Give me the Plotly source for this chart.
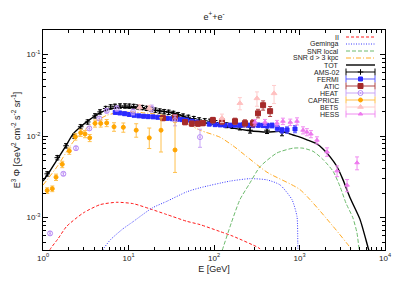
import math
import plotly.graph_objects as go

# ---------------- model curves (E [GeV], E^3 Phi) ----------------
ii_E = [1.15, 1.21, 1.5, 1.89, 2.96, 4.65, 7.3, 11.4, 17.8, 28, 48, 68.6, 117, 167, 327, 360]
ii_F = [3.5e-4, 4.07e-4, 5.5e-4, 7.8e-4, 1.14e-3, 1.44e-3, 1.54e-3, 1.48e-3, 1.28e-3, 1.09e-3, 9.0e-4, 8.2e-4, 6.75e-4, 5.9e-4, 4.3e-4, 4.0e-4]

gem_E = [4.8, 5.0, 6.1, 8.5, 11.3, 18.9, 28, 48, 68.6, 154, 264, 417, 591, 817, 935, 955, 960]
gem_F = [3.5e-4, 4.0e-4, 5.3e-4, 7.2e-4, 8.9e-4, 1.31e-3, 1.58e-3, 2.07e-3, 2.32e-3, 2.8e-3, 3.0e-3, 2.9e-3, 2.52e-3, 1.66e-3, 1.03e-3, 5.0e-4, 3.5e-4]

snrl_E = [118, 124, 160, 201, 260, 345, 545, 839, 1100, 1440, 1870, 2470, 2980, 3500, 4200, 4700, 5000, 5200]
snrl_F = [3.4e-4, 3.9e-4, 8.7e-4, 1.66e-3, 2.6e-3, 4.2e-3, 6.2e-3, 7.1e-3, 7.1e-3, 6.5e-3, 5.2e-3, 3.7e-3, 2.4e-3, 1.5e-3, 1.0e-3, 6.5e-4, 4.0e-4, 3.4e-4]

snrf_E = [1.0, 1.46, 2.26, 3.55, 5.6, 8.6, 15, 33, 68.6, 117, 167, 417, 1014, 2470, 4110, 4400]
snrf_F = [2.5e-3, 4.2e-3, 8.5e-3, 1.36e-2, 1.80e-2, 1.98e-2, 1.93e-2, 1.72e-2, 1.18e-2, 9.7e-3, 7.6e-3, 3.6e-3, 2.2e-3, 7.8e-4, 4.0e-4, 3.5e-4]

tot_E = [1.0, 1.2, 1.46, 1.8, 2.26, 2.8, 3.55, 4.5, 5.6, 7.0, 8.6, 11, 15, 20, 33, 68.6, 117, 167, 250, 417, 591, 700, 839,
         1014, 1224, 1600, 1870, 2270, 2750, 3230, 3900, 5100, 6330, 6700]
tot_F = [2.8e-3, 3.7e-3, 5.1e-3, 7.2e-3, 1.07e-2, 1.32e-2, 1.6e-2, 1.9e-2, 2.1e-2, 2.22e-2, 2.26e-2, 2.24e-2, 2.17e-2, 2.08e-2,
         1.93e-2, 1.48e-2, 1.36e-2, 1.25e-2, 1.17e-2, 1.12e-2, 1.14e-2, 1.1e-2, 1.03e-2,
         9.7e-3, 9.0e-3, 8.0e-3, 7.0e-3, 5.6e-3, 4.2e-3, 2.9e-3, 1.75e-3, 9.5e-4, 4.3e-4, 3.5e-4]

# ---------------- data sets ----------------
ams_E = [1.12, 1.47, 1.86, 2.32, 2.76, 3.33, 4.06, 4.65, 5.41, 6.19, 6.95, 7.96, 9.1, 10.2, 11.5, 12.9, 14.5, 16.3, 18.3,
         20.6, 23.2, 26.1, 29.5, 33.5, 38, 43.5, 50, 58, 67, 78, 90, 104, 120, 140, 165, 201, 264, 417, 624]
ams_F = [3.44e-3, 5.43e-3, 7.6e-3, 1.0e-2, 1.3e-2, 1.49e-2, 1.77e-2, 1.98e-2, 2.18e-2, 2.28e-2, 2.32e-2, 2.34e-2, 2.34e-2,
         2.33e-2, 2.31e-2, 2.28e-2, 2.24e-2, 2.19e-2, 2.13e-2, 2.08e-2, 2.03e-2, 1.99e-2, 1.96e-2, 1.9e-2, 1.83e-2, 1.76e-2,
         1.7e-2, 1.64e-2, 1.58e-2, 1.54e-2, 1.52e-2, 1.46e-2, 1.4e-2, 1.36e-2, 1.33e-2, 1.29e-2, 1.18e-2, 1.18e-2, 1.12e-2]
ams_err = [0.06] * 33 + [0.07, 0.07, 0.08, 0.08, 0.09, 0.1]

fermi_E = [7.0, 7.9, 9.0, 10.2, 11.6, 13.2, 15.0, 17.0, 19.4, 22.0, 25.0, 28.5, 32.5, 37, 42, 48, 55, 63, 74, 88, 103, 118,
           134, 155, 176, 200, 218, 250, 286, 330, 375, 420, 478, 550, 624, 715, 886]
fermi_F = [1.95e-2, 1.92e-2, 1.88e-2, 1.84e-2, 1.8e-2, 1.77e-2, 1.75e-2, 1.73e-2, 1.72e-2, 1.7e-2, 1.68e-2, 1.65e-2, 1.63e-2,
           1.61e-2, 1.59e-2, 1.57e-2, 1.52e-2, 1.48e-2, 1.43e-2, 1.4e-2, 1.38e-2, 1.37e-2, 1.36e-2, 1.36e-2, 1.36e-2,
           1.36e-2, 1.37e-2, 1.36e-2, 1.35e-2, 1.36e-2, 1.35e-2, 1.34e-2, 1.35e-2, 1.25e-2, 1.18e-2, 1.19e-2, 1.22e-2]
fermi_err = [0.04] * 25 + [0.05, 0.05, 0.05, 0.06, 0.06, 0.06, 0.07, 0.07, 0.08, 0.08, 0.09, 0.1]

atic_E = [25.3, 35, 45.8, 55, 65, 74, 97, 124, 176, 230, 286, 327, 375, 453]
atic_F = [1.66e-2, 1.7e-2, 1.48e-2, 1.42e-2, 1.42e-2, 1.44e-2, 1.57e-2, 1.52e-2, 1.52e-2, 1.44e-2, 1.44e-2, 1.9e-2, 2.39e-2, 2.02e-2]
atic_err = [0.07, 0.07, 0.07, 0.07, 0.07, 0.07, 0.08, 0.08, 0.09, 0.1, 0.1, 0.12, 0.13, 0.14]

heat_E = [1.21, 1.73, 2.43, 3.48, 4.55, 5.56, 7.3, 11.3, 18.7, 35, 68.6]
heat_F = [6.4e-4, 3.44e-3, 7.1e-3, 1.24e-2, 1.64e-2, 2.04e-2, 2.18e-2, 1.98e-2, 2.18e-2, 1.57e-2, 9.7e-3]
heat_err = [0.05, 0.05, 0.05, 0.05, 0.05, 0.06, 0.07, 0.08, 0.1, 0.15, 0.25]

caprice_E = [1.12, 1.285, 1.42, 1.68, 2.03, 2.39, 2.76, 3.1, 3.52, 4.06, 4.73, 5.56, 6.77, 8.7, 12.3, 17.5, 24, 35]
caprice_F = [2.15e-3, 2.26e-3, 3.13e-3, 4.5e-3, 6.56e-3, 9.8e-3, 1.10e-2, 1.06e-2, 9.5e-3, 1.43e-2, 1.43e-2, 1.45e-2,
             1.30e-2, 1.28e-2, 1.18e-2, 9.5e-3, 1.18e-2, 6.75e-3]
caprice_up = [0.08, 0.08, 0.09, 0.09, 0.09, 0.09, 0.1, 0.1, 0.1, 0.1, 0.1, 0.1, 0.12, 0.13, 0.2, 0.32, 0.42, 1.19]
caprice_dn = [0.08, 0.08, 0.09, 0.09, 0.09, 0.09, 0.1, 0.1, 0.1, 0.1, 0.1, 0.1, 0.12, 0.13, 0.18, 0.26, 0.46, 0.47]

bets_E = [13.5, 17.5, 124, 201, 318, 504]
bets_F = [2.25e-2, 2.2e-2, 1.66e-2, 2.53e-2, 2.9e-2, 3.34e-2]
bets_err = [0.08, 0.08, 0.12, 0.17, 0.2, 0.25]

hess_E = [302, 395, 545, 640, 780, 935, 1100, 1220, 1360, 1600, 2100, 2750, 3600, 4710]
hess_F = [1.48e-2, 1.48e-2, 1.44e-2, 1.52e-2, 1.48e-2, 1.52e-2, 1.18e-2, 1.12e-2, 1.06e-2, 8.9e-3, 6.4e-3, 3.74e-3, 2.5e-3, 4.7e-3]
hess_err = [0.08, 0.08, 0.08, 0.09, 0.09, 0.1, 0.1, 0.1, 0.1, 0.1, 0.12, 0.15, 0.17, 0.18]

x_ticks = [1, 10, 100, 1000, 10000]
x_tick_text = ["10<sup>0</sup>", "10<sup>1</sup>", "10<sup>2</sup>", "10<sup>3</sup>", "10<sup>4</sup>"]
y_ticks = [1e-3, 1e-2, 1e-1]
y_tick_text = ["10<sup>-3</sup>", "10<sup>-2</sup>", "10<sup>-1</sup>"]

names = ["II", "Geminga", "SNR local", "SNR d > 3 kpc", "TOT", "AMS-02", "FERMI", "ATIC", "HEAT", "CAPRICE", "BETS", "HESS"]

fig = go.Figure()

curves = [
    (ii_E, ii_F, "#ff1a1a", "3px,2px", 1.0),
    (gem_E, gem_F, "#3a3aff", "1px,1.5px", 1.0),
    (snrl_E, snrl_F, "#6cba6c", "4px,2px", 1.0),
    (snrf_E, snrf_F, "#ffaa22", "5px,2px,1px,2px", 1.0),
    (tot_E, tot_F, "#000000", "solid", 1.4),
]
for E, F, col, dash, w in curves:
    fig.add_trace(go.Scatter(x=E, y=F, mode="lines", line=dict(color=col, dash=dash, width=w, shape="spline", smoothing=0.6),
                             hoverinfo="skip"))


def err(F, up, dn=None):
    dn = up if dn is None else dn
    return dict(type="data", symmetric=False, array=[f * u for f, u in zip(F, up)],
                arrayminus=[f * d for f, d in zip(F, dn)])


data_sets = [
    (ams_E, ams_F, err(ams_F, ams_err), "#000000", "#000000", "cross-thin", 4, "#000000"),
    (fermi_E, fermi_F, err(fermi_F, fermi_err), "#2a2aff", "#5a5aff", "square", 4, "#2a2aff"),
    (atic_E, atic_F, err(atic_F, atic_err), "#a52a2a", "#b04545", "square", 5, "#a52a2a"),
    (heat_E, heat_F, err(heat_F, heat_err), "#b98cf5", "#c9a6f7", "circle-open-dot", 5, "#b98cf5"),
    (caprice_E, caprice_F, err(caprice_F, caprice_up, caprice_dn), "#ffa500", "#ffc04d", "circle", 4, "#ffa500"),
    (bets_E, bets_F, err(bets_F, bets_err), "#ffc0c0", "#ffcccc", "triangle-up", 5, "#ffc0c0"),
    (hess_E, hess_F, err(hess_F, hess_err), "#ee7aee", "#f08cf0", "triangle-up", 4, "#ee7aee"),
]
for E, F, ey, mcol, ecol, sym, size, lcol in data_sets:
    ey.update(color=ecol, thickness=1, width=2)
    fig.add_trace(go.Scatter(x=E, y=F, mode="markers", error_y=ey,
                             marker=dict(symbol=sym, size=size, color=mcol, line=dict(color=lcol, width=1)),
                             hoverinfo="skip"))

# ---------------- gnuplot-like legend (pixel-coordinate overlay axes) ----------------
text_x, x0, x1 = 341, 346, 375
for i, name in enumerate(names):
    yy = 37 + 7 * i
    fig.add_annotation(x=text_x, y=yy, xref="x2", yref="y2", text=name, showarrow=False,
                       xanchor="right", yanchor="middle", font=dict(size=7, color="#222"))
    if i < len(curves):
        _, _, col, dash, w = curves[i]
        fig.add_trace(go.Scatter(x=[x0, x1], y=[yy, yy], xaxis="x2", yaxis="y2", mode="lines",
                                 line=dict(color=col, dash=dash, width=w), hoverinfo="skip"))
    else:
        _, _, _, mcol, ecol, sym, size, lcol = data_sets[i - len(curves)]
        fig.add_trace(go.Scatter(x=[x0, x1], y=[yy, yy], xaxis="x2", yaxis="y2", mode="lines+markers",
                                 line=dict(color=ecol, width=1),
                                 marker=dict(symbol="line-ns", size=5, line=dict(color=ecol, width=1)),
                                 hoverinfo="skip"))
        fig.add_trace(go.Scatter(x=[(x0 + x1) / 2], y=[yy], xaxis="x2", yaxis="y2", mode="markers",
                                 marker=dict(symbol=sym, size=size, color=mcol, line=dict(color=lcol, width=1)),
                                 hoverinfo="skip"))

x_minor = [m * 10 ** d for d in range(0, 4) for m in range(2, 10)]
y_minor = [m * 10 ** d for d in range(-4, 0) for m in range(2, 10) if 4e-4 <= m * 10 ** d <= 0.2]

axis_common = dict(type="log", showgrid=False, zeroline=False, showline=True, linecolor="black", linewidth=1,
                   mirror="ticks", ticks="inside", ticklen=5, tickcolor="black", tickwidth=1,
                   tickfont=dict(size=8, color="#222"), automargin=False)

# the page body adds an 8px offset, so margins are reduced by 8px on the left/top
fig.update_layout(
    width=405, height=283,
    margin=dict(l=35, r=28, t=22, b=41),
    paper_bgcolor="white", plot_bgcolor="white",
    showlegend=False,
    font=dict(family="Liberation Sans, Arial, sans-serif", size=8, color="#222"),
    title=dict(text="e<sup>+</sup>+e<sup>-</sup>", x=0.5, xref="paper", xanchor="center",
               y=1 - 9 / 283, yref="container", yanchor="middle", font=dict(size=9, color="#222")),
    xaxis=dict(axis_common, range=[0, 4], tickvals=x_ticks, ticktext=x_tick_text,
               minor=dict(ticks="inside", ticklen=3, tickcolor="black", tickvals=x_minor),
               title=dict(text="E [GeV]", font=dict(size=9, color="#222"), standoff=4)),
    yaxis=dict(axis_common, range=[math.log10(4e-4), math.log10(0.2)], tickvals=y_ticks, ticktext=y_tick_text,
               minor=dict(ticks="inside", ticklen=3, tickcolor="black", tickvals=y_minor),
               title=dict(text="E<sup>3</sup> Φ [GeV<sup>2</sup> cm<sup>-2</sup> s<sup>-2</sup> sr<sup>-1</sup>]",
                          font=dict(size=9, color="#222"), standoff=4)),
    xaxis2=dict(overlaying="x", anchor="y2", range=[43, 385], visible=False, fixedrange=True),
    yaxis2=dict(overlaying="y", anchor="x2", range=[250, 30], visible=False, fixedrange=True),
)

fig.write_html("out.html")
